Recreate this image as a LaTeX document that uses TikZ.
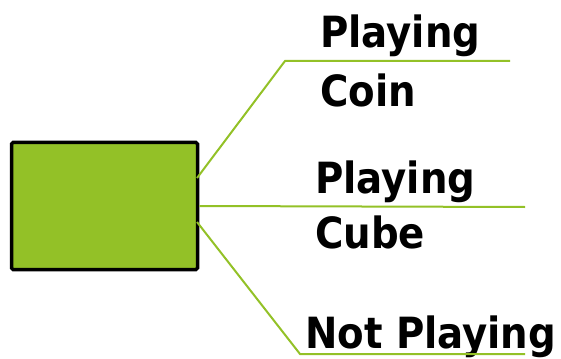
\documentclass[tikz,border=0pt]{standalone}
\usepackage{fontspec}
\setmainfont{DejaVu Sans Condensed}
\definecolor{leaf}{HTML}{93C127}
\tikzstyle{box}=[draw=black, fill=leaf, line width=3.5pt, rounded corners=1.5pt, minimum width=186pt, minimum height=127pt, inner sep=0pt]
\tikzstyle{branch}=[draw=leaf, line width=2pt]
\tikzstyle{lbl}=[anchor=base west, inner sep=0pt, font=\fontsize{43}{50}\selectfont\bfseries]
\newcommand{\lbl}{\node[lbl]}

\begin{document}
\begin{tikzpicture}[x=1pt, y=-1pt]
\useasboundingbox (0,0) rectangle (561,358);
\node[box] (src) at (104.5,206) {};
\coordinate (s1) at (197,178);
\coordinate (s3) at (197,222);
\coordinate (k1) at (285,61);
\coordinate (k3) at (300,354);
\coordinate (e1) at (510,61);
\coordinate (e2) at (525,207);
\coordinate (e3) at (525,354);
\lbl (coin1) at (320,48) {Playing};
\lbl (coin2) at (320,107) {Coin};
\lbl (cube1) at (315,193) {Playing};
\lbl (cube2) at (315,248) {Cube};
\lbl (none) at (305,348) {Not Playing};
\path[branch]
(s1) -- (k1) -- (e1)
(src.east) -- (e2)
(s3) -- (k3) -- (e3)
;
\end{tikzpicture}
\end{document}
